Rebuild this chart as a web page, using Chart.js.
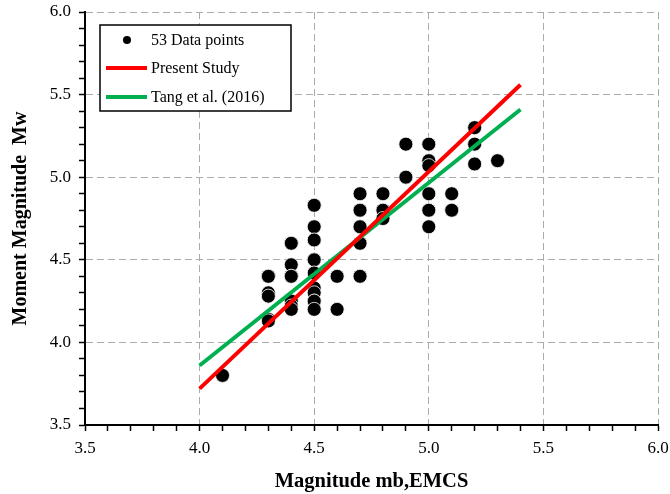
<!DOCTYPE html>
<html>
<head>
<meta charset="utf-8">
<script src="https://cdn.jsdelivr.net/npm/chart.js@4"></script>
<style>
  html, body { margin: 0; padding: 0; background: #fff; }
  #wrap { width: 670px; height: 494px; }
</style>
</head>
<body>
<div id="wrap"><canvas id="c" width="670" height="494"></canvas></div>
<script>
// 53 data points (some overlap)
const mb = [4.1,
  4.3, 4.3, 4.3, 4.3, 4.3, 4.3,
  4.4, 4.4, 4.4, 4.4, 4.4, 4.4, 4.4,
  4.5, 4.5, 4.5, 4.5, 4.5, 4.5, 4.5, 4.5, 4.5, 4.5, 4.5,
  4.6, 4.6,
  4.7, 4.7, 4.7, 4.7, 4.7, 4.7,
  4.8, 4.8, 4.8, 4.8,
  4.9, 4.9,
  5.0, 5.0, 5.0, 5.0, 5.0, 5.0, 5.0,
  5.1, 5.1,
  5.2, 5.2, 5.2, 5.2,
  5.3];
const mw = [3.80,
  4.40, 4.40, 4.30, 4.28, 4.14, 4.13,
  4.60, 4.47, 4.40, 4.40, 4.25, 4.22, 4.20,
  4.83, 4.70, 4.62, 4.50, 4.50, 4.42, 4.33, 4.30, 4.25, 4.25, 4.20,
  4.40, 4.20,
  4.90, 4.80, 4.70, 4.70, 4.60, 4.40,
  4.90, 4.80, 4.80, 4.75,
  5.20, 5.00,
  5.20, 5.10, 5.10, 5.07, 4.90, 4.80, 4.70,
  4.90, 4.80,
  5.30, 5.30, 5.20, 5.08,
  5.10];

// regression lines (end points)
const fitX = [4.0, 5.4];
const presentY = [3.72, 5.56];
const tangY = [3.86, 5.41];

const labels = ['53 Data points', 'Present Study', 'Tang et al. (2016)'];

const serif = "'Liberation Serif', 'Times New Roman', serif";

const toPts = (xs, ys) => xs.map((x, i) => ({x: x, y: ys[i]}));

const isMajor = v => Math.abs(v * 2 - Math.round(v * 2)) < 1e-6;

// legend box drawn inside the plot
const boxLegend = {
  id: 'boxLegend',
  afterDraw(chart) {
    const ctx = chart.ctx;
    const ds = chart.data.datasets;
    ctx.save();
    ctx.fillStyle = '#fff';
    ctx.fillRect(100, 25, 191, 86);
    ctx.strokeStyle = '#000';
    ctx.lineWidth = 1.5;
    ctx.strokeRect(100, 25, 191, 86);
    ctx.font = '16px ' + serif;
    ctx.textBaseline = 'middle';
    ctx.textAlign = 'left';
    const rows = [40, 68, 97];
    ds.forEach((d, i) => {
      const y = rows[i];
      if (d.showLine) {
        ctx.strokeStyle = d.borderColor;
        ctx.lineWidth = 4;
        ctx.beginPath();
        ctx.moveTo(106, y);
        ctx.lineTo(147, y);
        ctx.stroke();
      } else {
        ctx.fillStyle = '#000';
        ctx.beginPath();
        ctx.arc(127, y, 4, 0, Math.PI * 2);
        ctx.fill();
      }
      ctx.fillStyle = '#000';
      ctx.fillText(d.label, 151, y + 1);
    });
    ctx.restore();
  }
};

const gridColor = c => isMajor(c.tick.value) ? '#ababab' : 'rgba(0,0,0,0)';

new Chart(document.getElementById('c'), {
  type: 'scatter',
  data: {
    datasets: [
      {
        label: labels[0],
        data: toPts(mb, mw),
        showLine: false,
        pointRadius: 7,
        pointHoverRadius: 7,
        pointBackgroundColor: '#000',
        pointBorderColor: '#fff',
        pointBorderWidth: 0.8,
        order: 2
      },
      {
        label: labels[1],
        data: toPts(fitX, presentY),
        showLine: true,
        borderColor: '#ff0000',
        borderWidth: 4,
        pointRadius: 0,
        fill: false,
        order: 0
      },
      {
        label: labels[2],
        data: toPts(fitX, tangY),
        showLine: true,
        borderColor: '#00b050',
        borderWidth: 4,
        pointRadius: 0,
        fill: false,
        order: 1
      }
    ]
  },
  options: {
    animation: false,
    responsive: false,
    layout: { padding: { left: 0, right: 12, top: 12, bottom: 0 } },
    plugins: {
      legend: { display: false },
      tooltip: { enabled: false }
    },
    scales: {
      x: {
        type: 'linear',
        min: 3.5,
        max: 6.0,
        afterFit: s => {
          s.height = 69;
          s.paddingLeft = 0;
          s.paddingRight = 0;
        },
        ticks: {
          stepSize: 0.1,
          autoSkip: false,
          maxRotation: 0,
          padding: 7,
          color: '#000',
          font: { family: serif, size: 17 },
          callback: v => isMajor(v) ? v.toFixed(1) : ''
        },
        grid: {
          color: gridColor,
          lineWidth: 1,
          tickColor: '#000',
          tickLength: 6,
          tickWidth: 1.5
        },
        border: { color: '#000', width: 2, dash: [7, 4] },
        title: {
          display: true,
          text: 'Magnitude mb,EMCS',
          color: '#000',
          font: { family: serif, size: 20.5, weight: 'bold' },
          padding: { top: 2, bottom: 0 }
        }
      },
      y: {
        type: 'linear',
        min: 3.5,
        max: 6.0,
        afterFit: s => {
          s.width = 85;
          s.paddingTop = 0;
          s.paddingBottom = 0;
        },
        ticks: {
          stepSize: 0.1,
          autoSkip: false,
          padding: 8,
          color: '#000',
          font: { family: serif, size: 17 },
          callback: v => isMajor(v) ? v.toFixed(1) : ''
        },
        grid: {
          color: gridColor,
          lineWidth: 1,
          tickColor: '#000',
          tickLength: 6,
          tickWidth: 1.5
        },
        border: { color: '#000', width: 2, dash: [7, 4] },
        title: {
          display: true,
          text: 'Moment Magnitude  Mw',
          color: '#000',
          font: { family: serif, size: 20, weight: 'bold' },
          padding: { top: 9, bottom: 0 }
        }
      }
    }
  },
  plugins: [boxLegend]
});
</script>
</body>
</html>
